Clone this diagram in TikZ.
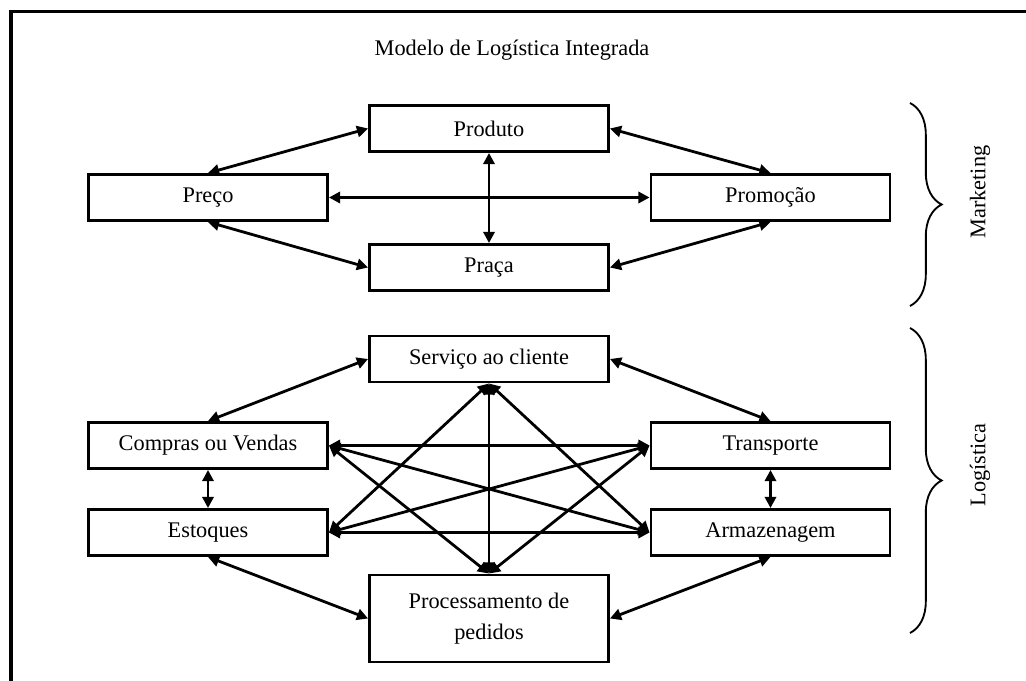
\documentclass[tikz,border=0pt]{standalone}
\usepackage{fontspec}
\setmainfont{Liberation Serif}
\usetikzlibrary{arrows.meta,decorations.pathreplacing}
\begin{document}
\begin{tikzpicture}[
    x=0.5375pt, y=-0.5375pt,
    boxnode/.style={rectangle, draw=black, line width=1.5pt, minimum width=128.5pt, minimum height=24.8pt, inner sep=2pt, font=\fontsize{12}{16.5}\selectfont},
    plainnode/.style={font=\fontsize{12}{14.4}\selectfont},
    link/.style={{Triangle[length=6pt,width=6pt]}-{Triangle[length=6pt,width=6pt]}, line width=1.5pt},
    curly/.style={decorate, decoration={brace, amplitude=17pt}, line width=1pt}
  ]
  \useasboundingbox (0,0) rectangle (1026,681);

  %Frame
  \draw[line width=2pt] (11,681) -- (11,11.5) -- (1026,11.5);

  %Nodes
  \node[plainnode] at (512,50) (titulo) {Modelo de Logística Integrada};
  \node[boxnode] at (489,128.5) (produto) {Produto};
  \node[boxnode] at (208,197.5) (preco) {Preço};
  \node[boxnode] at (770.5,197.5) (promocao) {Promoção};
  \node[boxnode] at (489,267.5) (praca) {Praça};

  \node[boxnode] at (489,359) (servico) {Serviço ao cliente};
  \node[boxnode] at (208,445.5) (compras) {Compras ou Vendas};
  \node[boxnode] at (208,532.5) (estoques) {Estoques};
  \node[boxnode] at (770.5,445.5) (transporte) {Transporte};
  \node[boxnode] at (770.5,532.5) (armazenagem) {Armazenagem};
  \node[boxnode, minimum height=46.8pt, align=center] at (489,618.5) (processamento) {Processamento de\\pedidos};

  %Lines
  \draw[link] (preco.north) -- (produto.west);
  \draw[link] (preco.south) -- (praca.west);
  \draw[link] (preco.east) -- (promocao.west);
  \draw[link] (produto.south) -- (praca.north);
  \draw[link] (produto.east) -- (promocao.north);
  \draw[link] (praca.east) -- (promocao.south);

  \draw[link] (servico.west) -- (compras.north);
  \draw[link] (servico.east) -- (transporte.north);
  \draw[link] (compras.south) -- (estoques.north);
  \draw[link] (transporte.south) -- (armazenagem.north);
  \draw[link] (estoques.south) -- (processamento.west);
  \draw[link] (armazenagem.south) -- (processamento.east);
  \draw[link] (compras.east) -- (transporte.west);
  \draw[link] (estoques.east) -- (armazenagem.west);
  \draw[link] (compras.east) -- (armazenagem.west);
  \draw[link] (estoques.east) -- (transporte.west);
  \draw[link] (servico.south) -- (processamento.north);
  \draw[link] (compras.east) -- (processamento.north);
  \draw[link] (transporte.west) -- (processamento.north);
  \draw[link] (estoques.east) -- (servico.south);
  \draw[link] (armazenagem.west) -- (servico.south);

  %Labels
  \draw[curly] (910,103) -- (910,306);
  \draw[curly] (910,328) -- (910,633);
  \node[plainnode, rotate=90] at (980,192) (marketing) {Marketing};
  \node[plainnode, rotate=90] at (980,465) (logistica) {Logística};

\end{tikzpicture}
\end{document}
